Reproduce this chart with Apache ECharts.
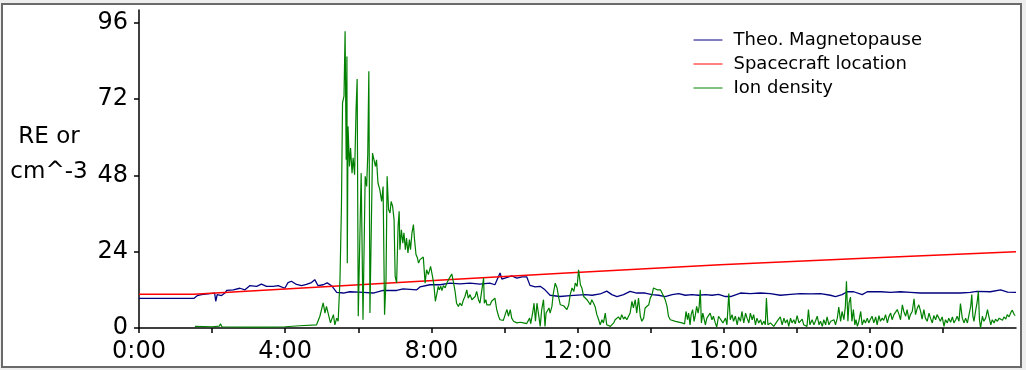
<!DOCTYPE html>
<html>
<head>
<meta charset="utf-8">
<script src="https://cdn.jsdelivr.net/npm/echarts@6/dist/echarts.min.js"></script>
<style>
  html, body { margin: 0; padding: 0; background: #eeeeee; }
  #frame {
    position: absolute; left: 1px; top: 3px; width: 1017px; height: 361px;
    background: #ffffff; border: 2px solid #6a6a6a;
  }
  #chart { position: absolute; left: 0; top: 0; width: 1026px; height: 370px; }
</style>
</head>
<body>
<div id="frame"></div>
<div id="chart"></div>
<script>
// [hour, value]
const magnetopause = [
  [0, 9.3], [1.5, 9.3], [1.53, 9.2], [1.6, 10.2], [1.71, 10.5], [1.94, 10.8], [2.07, 11.0], [2.1, 8.4],
  [2.14, 10.5], [2.26, 10.2], [2.35, 11.0], [2.4, 11.8], [2.58, 12.0], [2.76, 12.5], [2.9, 12.0],
  [3.03, 13.3], [3.22, 13.1], [3.35, 13.8], [3.49, 13.1], [3.67, 13.1], [3.81, 13.3], [3.99, 12.5],
  [4.08, 14.3], [4.17, 14.7], [4.31, 13.7], [4.45, 13.3], [4.58, 13.7], [4.72, 14.3], [4.81, 15.2],
  [4.9, 13.3], [5.04, 13.6], [5.15, 14.2], [5.27, 13.3], [5.41, 11.2], [5.59, 11.0], [5.77, 11.4],
  [6.14, 11.2], [6.41, 11.0], [6.68, 11.8], [7.05, 11.8], [7.23, 12.3], [7.6, 12.0], [7.69, 12.9],
  [7.96, 13.6], [8.24, 13.6], [8.51, 14.1], [8.78, 13.9], [9.06, 14.1], [9.33, 13.8], [9.6, 14.1],
  [9.74, 13.6], [9.88, 17.3], [9.93, 15.4], [10.2, 16.4], [10.34, 15.7], [10.48, 16.1], [10.61, 16.1],
  [10.7, 13.4], [10.84, 12.9], [10.98, 13.1], [11.11, 12.0], [11.25, 10.3], [11.52, 9.9], [11.8, 10.2],
  [12.21, 10.5], [12.4, 10.3], [12.62, 10.7], [12.8, 11.6], [12.94, 10.5], [13.08, 9.9], [13.26, 10.5],
  [13.44, 11.5], [13.62, 11.0], [13.85, 11.0], [14.04, 10.5], [14.22, 10.3], [14.4, 9.9], [14.59, 10.5],
  [14.77, 10.8], [14.95, 10.3], [15.13, 10.5], [15.31, 10.3], [15.5, 10.5], [15.68, 10.3], [15.86, 10.6],
  [16.05, 9.9], [16.19, 9.9], [16.46, 11.0], [16.73, 10.8], [17.0, 11.0], [17.28, 10.8], [17.55, 10.3],
  [17.83, 10.6], [18.1, 10.8], [18.38, 10.7], [18.65, 10.8], [18.92, 10.3], [19.06, 9.9], [19.24, 10.5],
  [19.38, 11.4], [19.56, 11.4], [19.79, 10.5], [19.93, 11.4], [20.16, 11.4], [20.3, 11.4], [20.57, 11.2],
  [20.84, 11.4], [21.11, 11.2], [21.38, 11.0], [21.66, 11.0], [21.93, 11.0], [22.2, 11.0], [22.48, 11.0],
  [22.75, 11.2], [22.93, 11.5], [23.3, 11.4], [23.58, 12.0], [23.77, 11.3], [24, 11.2]
];

const spacecraft = [
  [0, 10.6], [1.5, 10.6], [7.7, 14.7], [11.7, 17.3], [15.9, 19.9], [20, 22.0], [24, 24.0]
];

const ionDensity = [
  [1.53, 0.5], [2.0, 0.4], [2.2, 0.6], [2.23, 1.3], [2.27, 0.4], [3.0, 0.3], [3.5, 0.3], [4.0, 0.4],
  [4.4, 0.7], [4.86, 1.0], [4.95, 3.7], [5.04, 7.9], [5.09, 4.7], [5.13, 6.8], [5.18, 7.3], [5.24, 1.6],
  [5.32, 4.2], [5.36, 1.0], [5.41, 3.1], [5.45, 2.1], [5.5, 15.2], [5.54, 38.3], [5.57, 70.8],
  [5.61, 72.9], [5.64, 93.3], [5.67, 52.9], [5.69, 85.4], [5.7, 20.4], [5.72, 63.4], [5.76, 50.8],
  [5.79, 56.6], [5.83, 48.7], [5.86, 53.5], [5.9, 48.2], [5.94, 68.7], [5.97, 78.3], [6.0, 3.7],
  [6.05, 3.1], [6.08, 48.7], [6.13, 2.6], [6.16, 2.6], [6.19, 47.7], [6.23, 44.5], [6.26, 54.5],
  [6.29, 80.7], [6.32, 4.7], [6.36, 4.7], [6.39, 55.0], [6.43, 55.6], [6.47, 50.8], [6.5, 52.9],
  [6.54, 45.6], [6.59, 43.5], [6.64, 39.8], [6.68, 44.5], [6.72, 4.2], [6.76, 15.2], [6.79, 47.7],
  [6.83, 37.2], [6.87, 36.2], [6.9, 39.8], [6.94, 38.3], [6.98, 34.1], [7.01, 16.2], [7.05, 14.2],
  [7.09, 32.0], [7.12, 36.7], [7.14, 24.6], [7.18, 30.9], [7.22, 26.7], [7.25, 29.9], [7.29, 24.6],
  [7.32, 28.3], [7.36, 23.6], [7.4, 27.8], [7.43, 24.6], [7.47, 29.9], [7.51, 32.5], [7.54, 27.8],
  [7.58, 23.1], [7.62, 22.0], [7.65, 20.4], [7.69, 21.5], [7.74, 22.0], [7.78, 22.3], [7.83, 14.1],
  [7.87, 18.3], [7.92, 16.8], [7.98, 19.4], [8.04, 15.7], [8.07, 13.6], [8.11, 8.4], [8.15, 7.8],
  [8.19, 13.1], [8.22, 12.0], [8.26, 13.1], [8.29, 11.8], [8.33, 13.3], [8.38, 12.6], [8.42, 14.1],
  [8.47, 15.2], [8.51, 15.7], [8.56, 17.0], [8.6, 14.7], [8.65, 11.5], [8.69, 7.8], [8.74, 6.8],
  [8.78, 7.8], [8.83, 7.0], [8.88, 8.9], [8.92, 9.9], [8.97, 12.0], [9.01, 9.4], [9.06, 10.5],
  [9.11, 8.9], [9.15, 8.4], [9.2, 9.9], [9.24, 11.5], [9.29, 8.9], [9.33, 7.8], [9.38, 8.4],
  [9.43, 15.7], [9.45, 7.8], [9.49, 8.9], [9.52, 7.3], [9.56, 6.8], [9.61, 7.3], [9.65, 8.4],
  [9.7, 7.8], [9.74, 9.4], [9.79, 5.8], [9.84, 3.7], [9.88, 2.6], [9.93, 3.1], [9.97, 2.4],
  [10.02, 4.2], [10.07, 5.8], [10.11, 3.7], [10.16, 5.8], [10.2, 3.1], [10.25, 2.1], [10.34, 1.6],
  [10.43, 1.8], [10.52, 1.6], [10.61, 1.4], [10.69, 3.1], [10.72, 1.4], [10.78, 5.2], [10.81, 7.8],
  [10.85, 2.1], [10.89, 7.8], [10.93, 4.7], [10.98, 0.5], [11.02, 5.8], [11.07, 8.9], [11.11, 0.5],
  [11.14, 4.7], [11.18, 4.2], [11.22, 6.3], [11.25, 4.7], [11.3, 6.8], [11.34, 11.0], [11.39, 14.1],
  [11.44, 12.6], [11.48, 9.9], [11.53, 7.3], [11.57, 6.8], [11.62, 7.0], [11.66, 6.5], [11.71, 5.8],
  [11.76, 7.3], [11.8, 10.5], [11.85, 12.6], [11.9, 11.5], [11.94, 14.1], [11.99, 13.1], [12.03, 18.3],
  [12.08, 13.6], [12.12, 12.6], [12.17, 9.9], [12.21, 10.5], [12.26, 8.9], [12.3, 9.4], [12.35, 7.3],
  [12.39, 8.9], [12.44, 7.8], [12.48, 6.8], [12.53, 4.2], [12.58, 2.6], [12.62, 1.0], [12.67, 2.6],
  [12.71, 1.6], [12.76, 4.7], [12.8, 1.0], [12.85, 1.6], [12.9, 0.5], [12.94, 0.3], [12.99, 1.6],
  [13.03, 2.6], [13.08, 2.1], [13.12, 3.5], [13.17, 2.6], [13.21, 4.2], [13.26, 2.8], [13.3, 3.5],
  [13.35, 2.6], [13.4, 3.1], [13.44, 4.7], [13.49, 8.4], [13.53, 6.3], [13.58, 8.9], [13.62, 4.7],
  [13.67, 9.4], [13.72, 3.7], [13.76, 2.1], [13.81, 3.1], [13.85, 6.3], [13.9, 5.8], [13.95, 7.3],
  [13.99, 9.4], [14.04, 10.5], [14.08, 12.6], [14.13, 12.9], [14.18, 12.0], [14.22, 11.5], [14.27, 12.0],
  [14.31, 11.5], [14.36, 9.9], [14.4, 8.9], [14.45, 6.8], [14.49, 3.7], [14.54, 2.6], [14.68, 2.1],
  [14.86, 1.6], [14.93, 1.3], [14.97, 5.2], [15.01, 2.6], [15.04, 4.7], [15.08, 1.0], [15.11, 4.2],
  [15.15, 5.8], [15.19, 2.1], [15.22, 3.7], [15.26, 6.8], [15.3, 4.7], [15.33, 6.8], [15.36, 12.0],
  [15.39, 1.6], [15.43, 4.7], [15.46, 3.1], [15.5, 1.0], [15.54, 3.1], [15.59, 2.6], [15.63, 4.7],
  [15.68, 2.6], [15.72, 3.7], [15.77, 1.6], [15.81, 0.3], [15.86, 3.7], [15.91, 3.7], [15.98, 1.6],
  [16.05, 3.1], [16.09, 1.0], [16.14, 10.8], [16.18, 2.6], [16.23, 4.2], [16.27, 2.1], [16.32, 3.7],
  [16.37, 1.0], [16.41, 3.5], [16.46, 2.1], [16.5, 5.2], [16.55, 1.6], [16.6, 4.7], [16.64, 3.1],
  [16.69, 1.6], [16.73, 4.7], [16.78, 2.6], [16.82, 4.2], [16.87, 1.0], [16.91, 3.1], [16.96, 1.6],
  [17.01, 2.6], [17.05, 1.0], [17.1, 2.1], [17.14, 1.0], [17.17, 9.4], [17.21, 1.0], [17.28, 1.6],
  [17.37, 0.5], [17.46, 2.1], [17.55, 3.5], [17.6, 1.0], [17.65, 3.1], [17.69, 1.6], [17.74, 2.6],
  [17.78, 0.5], [17.83, 3.1], [17.87, 1.6], [17.92, 2.6], [17.96, 1.3], [18.01, 3.9], [18.06, 1.6],
  [18.1, 2.1], [18.15, 2.8], [18.19, 1.0], [18.24, 1.6], [18.28, 0.5], [18.32, 5.8], [18.36, 1.0],
  [18.42, 2.6], [18.47, 1.0], [18.51, 2.1], [18.56, 3.7], [18.61, 1.0], [18.65, 2.1], [18.7, 0.5],
  [18.74, 2.6], [18.79, 1.0], [18.83, 3.5], [18.88, 1.0], [18.93, 2.1], [18.97, 1.6], [19.02, 2.6],
  [19.06, 1.0], [19.11, 3.1], [19.15, 6.6], [19.2, 2.1], [19.24, 5.2], [19.29, 2.6], [19.33, 6.8],
  [19.36, 14.7], [19.4, 2.1], [19.43, 7.8], [19.47, 9.7], [19.51, 2.1], [19.55, 5.8], [19.59, 1.0],
  [19.62, 2.6], [19.66, 0.5], [19.7, 2.1], [19.75, 5.2], [19.79, 1.0], [19.84, 2.6], [19.88, 1.6],
  [19.93, 3.1], [19.97, 1.6], [20.02, 2.8], [20.06, 3.7], [20.11, 1.6], [20.16, 3.5], [20.2, 1.0],
  [20.25, 3.9], [20.29, 2.1], [20.34, 3.1], [20.38, 2.4], [20.43, 4.2], [20.48, 1.6], [20.52, 3.5],
  [20.57, 4.7], [20.61, 2.6], [20.66, 4.2], [20.71, 3.7], [20.75, 5.8], [20.8, 4.2], [20.84, 2.6],
  [20.89, 7.3], [20.93, 5.2], [20.98, 3.7], [21.02, 5.8], [21.07, 2.6], [21.11, 4.2], [21.16, 5.2],
  [21.21, 9.2], [21.25, 4.2], [21.3, 6.3], [21.34, 7.3], [21.39, 5.2], [21.43, 2.8], [21.48, 5.8],
  [21.52, 3.1], [21.57, 2.1], [21.62, 4.7], [21.66, 3.1], [21.71, 1.6], [21.75, 3.9], [21.8, 2.6],
  [21.84, 4.2], [21.89, 3.1], [21.93, 2.1], [21.98, 3.5], [22.03, 0.5], [22.07, 2.6], [22.12, 1.6],
  [22.16, 3.1], [22.21, 1.8], [22.26, 3.5], [22.3, 1.6], [22.35, 2.6], [22.39, 3.7], [22.44, 2.1],
  [22.48, 7.7], [22.53, 3.1], [22.58, 1.6], [22.62, 3.1], [22.67, 1.6], [22.71, 1.0], [22.76, 6.8],
  [22.79, 10.5], [22.82, 3.7], [22.85, 2.1], [22.9, 5.8], [22.94, 8.4], [22.97, 11.5], [23.0, 2.6],
  [23.03, 0.0], [23.08, 3.7], [23.12, 2.1], [23.17, 3.1], [23.22, 5.8], [23.26, 3.5], [23.31, 1.0],
  [23.35, 2.6], [23.4, 1.6], [23.44, 2.8], [23.49, 2.1], [23.54, 3.1], [23.58, 3.7], [23.63, 2.4],
  [23.67, 3.5], [23.72, 2.8], [23.76, 4.2], [23.81, 3.5], [23.86, 4.9], [23.9, 5.6], [23.95, 4.2],
  [23.98, 3.9]
];

const yTicks = [0, 24, 48, 72, 96];
const xLabelHours = [0, 4, 8, 12, 16, 20];
const seriesNames = ['Theo. Magnetopause', 'Spacecraft location', 'Ion density'];
const seriesColors = ['#000080', '#ff0000', '#008000'];

const font = 'DejaVu Sans';
const chart = echarts.init(document.getElementById('chart'), null, { renderer: 'canvas' });

const option = {
  animation: false,
  backgroundColor: 'transparent',
  grid: { left: 139, right: 10, top: 10, bottom: 42 },
  legend: {
    orient: 'vertical',
    left: 693,
    top: 31,
    padding: 0,
    itemWidth: 29,
    itemHeight: 18,
    itemGap: 6,
    data: seriesNames,
    itemStyle: { color: 'rgba(0,0,0,0)', borderColor: 'rgba(0,0,0,0)', borderWidth: 0 },
    lineStyle: { width: 1 },
    textStyle: { fontFamily: font, fontSize: 18, color: '#000', padding: [0, 0, 0, 6] }
  },
  graphic: [
    {
      type: 'text',
      style: { text: 'RE or', x: 49, y: 137, align: 'center', verticalAlign: 'middle',
        fontFamily: font, fontSize: 23, fill: '#000' }
    },
    {
      type: 'text',
      style: { text: 'cm^-3', x: 49, y: 172, align: 'center', verticalAlign: 'middle',
        fontFamily: font, fontSize: 23, fill: '#000' }
    }
  ],
  xAxis: {
    type: 'value',
    min: 0,
    max: 24,
    interval: 2,
    splitLine: { show: false },
    axisLine: { onZero: false, lineStyle: { color: '#000', width: 1.5 } },
    axisTick: { length: 5, lineStyle: { color: '#000', width: 1.5 } },
    axisLabel: {
      margin: 12,
      fontFamily: font,
      fontSize: 24,
      color: '#000',
      showMaxLabel: false,
      formatter: (v) => (xLabelHours.indexOf(v) >= 0 ? v + ':00' : '')
    }
  },
  yAxis: {
    type: 'value',
    min: 0,
    max: 100,
    splitLine: { show: false },
    axisLine: { show: true, lineStyle: { color: '#000', width: 1.5 } },
    axisTick: { show: true, length: 5, customValues: yTicks, lineStyle: { color: '#000', width: 1.5 } },
    axisLabel: {
      margin: 11,
      fontFamily: font,
      fontSize: 24,
      color: '#000',
      customValues: yTicks
    }
  },
  series: [
    {
      name: seriesNames[0], type: 'line', data: magnetopause, symbol: 'none',
      lineStyle: { color: seriesColors[0], width: 1.3 }, itemStyle: { color: seriesColors[0] }
    },
    {
      name: seriesNames[1], type: 'line', data: spacecraft, symbol: 'none',
      lineStyle: { color: seriesColors[1], width: 1.5 }, itemStyle: { color: seriesColors[1] }
    },
    {
      name: seriesNames[2], type: 'line', data: ionDensity, symbol: 'none',
      lineStyle: { color: seriesColors[2], width: 1.2 }, itemStyle: { color: seriesColors[2] }
    }
  ]
};

chart.setOption(option);
</script>
</body>
</html>
